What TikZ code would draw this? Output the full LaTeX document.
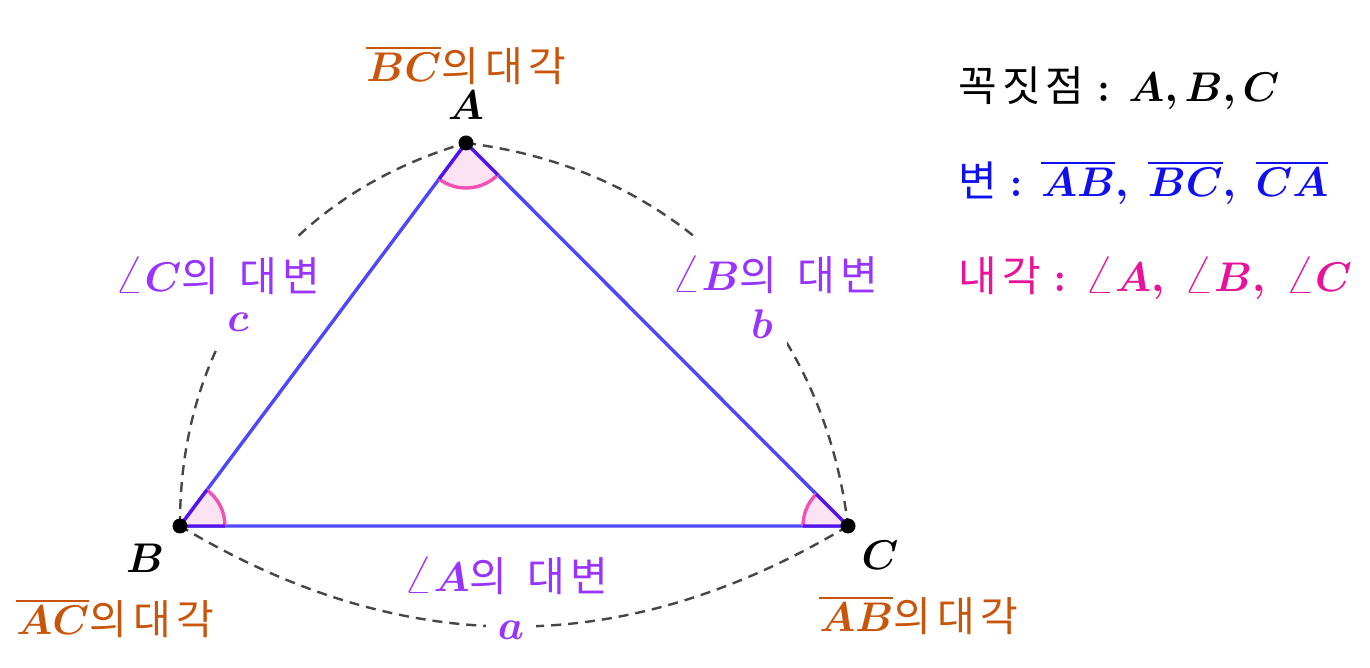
\documentclass[tikz,border=0pt]{standalone}
\usepackage{amsmath,bm}
\usepackage{graphicx}
\usepackage{fontspec}
\newfontfamily\kr[LetterSpace=12]{Noto Sans CJK KR}
\usetikzlibrary{calc}
\definecolor{triblue}{RGB}{77,72,250}
\definecolor{edgeviolet}{RGB}{85,20,235}
\definecolor{angpink}{RGB}{245,80,180}
\definecolor{angfill}{RGB}{252,226,243}
\definecolor{oppo}{RGB}{200,85,10}
\definecolor{sidepurple}{RGB}{153,51,255}
\definecolor{legblue}{RGB}{15,15,240}
\definecolor{legpink}{RGB}{232,18,155}
\definecolor{arcgray}{RGB}{70,70,70}
\tikzset{
  lbl/.style={font=\fontsize{20.5}{24}\selectfont, inner sep=0pt},
  leg/.style={font=\fontsize{21}{24}\selectfont, inner sep=0pt, anchor=base west},
  dot/.style={circle, fill=black, inner sep=0pt, minimum size=7.5pt},
  dasharc/.style={draw=arcgray, line width=1.2pt, dash pattern=on 5pt off 3.5pt},
  triside/.style={draw=triblue, line width=1.7pt},
  wedgeside/.style={draw=edgeviolet, line width=1.7pt},
  anglearc/.style={draw=angpink, line width=1.7pt},
  wipe/.style={fill=white},
}
\newcommand{\kg}[1]{{\kr #1}}
\newcommand{\ang}{\mathord{\raisebox{-0.02em}{\scalebox{1.35}{$\angle$}}}}
\begin{document}
\begin{tikzpicture}[x=0.5pt,y=0.5pt]
\useasboundingbox (0,0) rectangle (1370,668);
\coordinate (A) at (466,525);
\coordinate (B) at (180,142);
\coordinate (C) at (848,142);

% dashed arcs
\draw[dasharc] (B) to[bend left=37] (A);
\draw[dasharc] (A) to[bend left=38] (C);
\draw[dasharc] (C) to[bend left=31] (B);

% labels of opposite sides (white background breaks the arcs)
\node[lbl, wipe, anchor=base west, inner xsep=6pt, inner ysep=9pt, text=sidepurple] (lc1) at (102,376) {$\ang\bm{C}$\kg{의\hspace{0.5em}대변}};
\node[lbl, wipe, anchor=base, inner sep=7pt, text=sidepurple] (lc2) at (238,336) {$\bm{c}$};
\node[lbl, wipe, anchor=base west, inner xsep=6pt, inner ysep=9pt, text=sidepurple] (lb1) at (659,377) {$\ang\bm{B}$\kg{의\hspace{0.5em}대변}};
\node[lbl, wipe, anchor=base, inner sep=7pt, text=sidepurple] (lb2) at (762,329) {$\bm{b}$};
\node[lbl, anchor=base west, text=sidepurple] (la1) at (403,76) {$\ang\bm{A}$\kg{의\hspace{0.5em}대변}};
\node[lbl, wipe, anchor=base, inner xsep=6pt, inner ysep=2pt, text=sidepurple] (la2) at (511,28) {$\bm{a}$};

% triangle
\draw[triside] (A) -- (B) -- (C) -- cycle;

% angle marks
\fill[angfill] (A) -- ++(-126.75:45) arc[start angle=-126.75, end angle=-45.07, radius=45] -- cycle;
\draw[anglearc] ($(A)+(-126.75:45)$) arc[start angle=-126.75, end angle=-45.07, radius=45];
\draw[wedgeside] ($(A)+(-126.75:45)$) -- (A) -- ($(A)+(-45.07:45)$);

\fill[angfill] (B) -- ++(0:45) arc[start angle=0, end angle=53.25, radius=45] -- cycle;
\draw[anglearc] ($(B)+(0:45)$) arc[start angle=0, end angle=53.25, radius=45];
\draw[wedgeside] ($(B)+(0:45)$) -- (B) -- ($(B)+(53.25:45)$);

\fill[angfill] (C) -- ++(134.93:45) arc[start angle=134.93, end angle=180, radius=45] -- cycle;
\draw[anglearc] ($(C)+(134.93:45)$) arc[start angle=134.93, end angle=180, radius=45];
\draw[wedgeside] ($(C)+(134.93:45)$) -- (C) -- ($(C)+(180:45)$);

% vertices
\node[dot] (dA) at (A) {};
\node[dot] (dB) at (B) {};
\node[dot] (dC) at (C) {};

% vertex names
\node[lbl, anchor=base] (nA) at (466,548) {$\bm{A}$};
\node[lbl, anchor=base] (nB) at (145,95) {$\bm{B}$};
\node[lbl, anchor=base] (nC) at (880,98) {$\bm{C}$};

% opposite angles
\node[lbl, anchor=base west, text=oppo] (oA) at (366,586) {$\overline{\bm{BC}}$\kg{의\,대각}};
\node[lbl, anchor=base west, text=oppo] (oB) at (16,33) {$\overline{\bm{AC}}$\kg{의\,대각}};
\node[lbl, anchor=base west, text=oppo] (oC) at (819,36) {$\overline{\bm{AB}}$\kg{의\,대각}};

% legend
\node[leg] (g1) at (958,566) {\kg{꼭짓점} $\bm{:}\,\bm{A}\bm{,}\bm{B}\bm{,}\bm{C}$};
\node[leg, text=legblue] (g2) at (958,471) {\kg{변} $\bm{:}\,\overline{\bm{AB}}\bm{,}\ \overline{\bm{BC}}\bm{,}\ \overline{\bm{CA}}$};
\node[leg, text=legpink] (g3) at (958,376) {\kg{내각} $\bm{:}\,\ang\bm{A}\bm{,}\ \ang\bm{B}\bm{,}\ \ang\bm{C}$};
\end{tikzpicture}
\end{document}
